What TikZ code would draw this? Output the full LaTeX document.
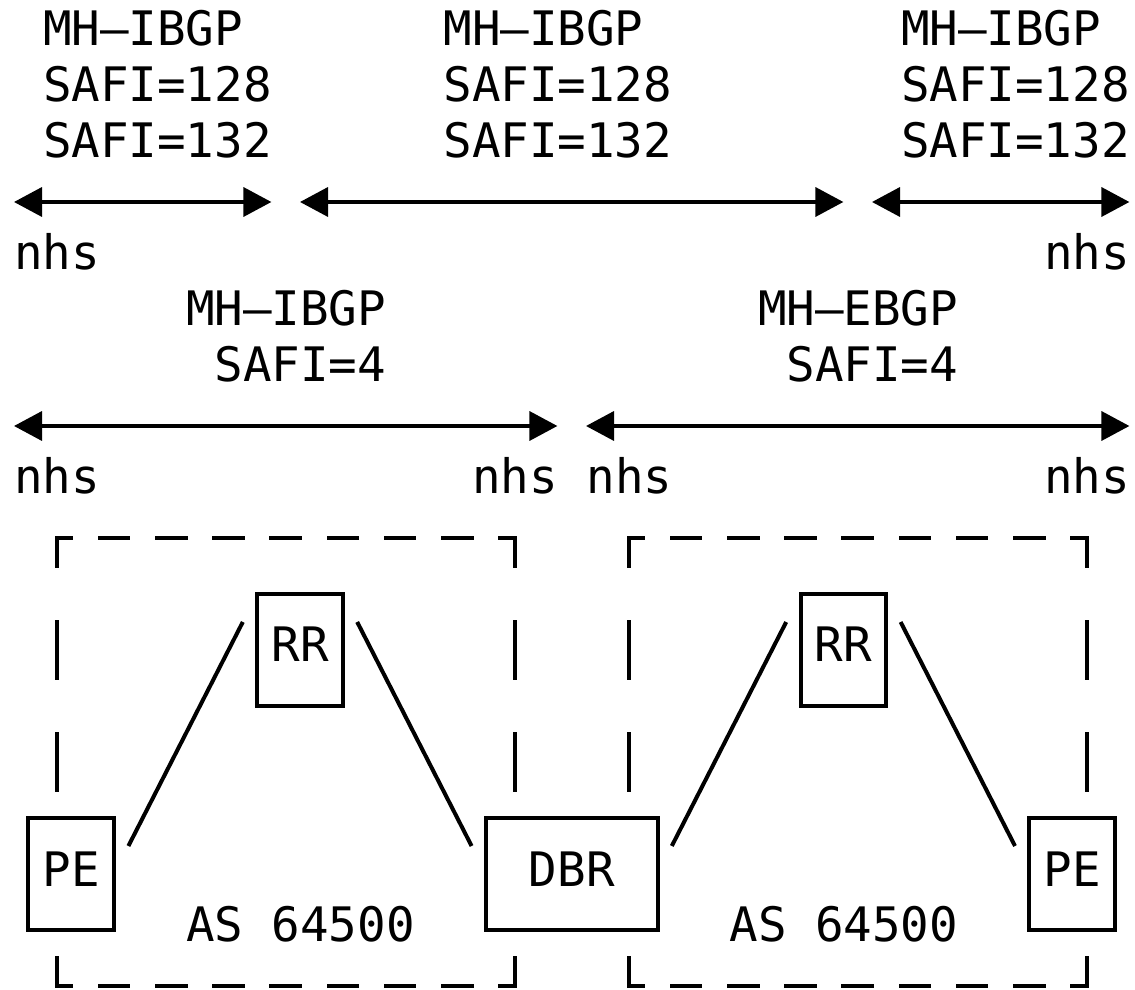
\documentclass[tikz,border=0pt]{standalone}
\usepackage{fontspec}
\setmainfont{DejaVu Sans Mono}
\usetikzlibrary{arrows.meta,calc}

% one grid cell = one character of the ascii art
\tikzset{
  txt/.style={anchor=base west,inner sep=0pt,font=\fontsize{23.75pt}{28pt}\selectfont},
  rtr/.style={draw,line width=2pt,fill=white,inner sep=0pt,outer sep=0pt,
              minimum height=56pt,text height=17.3pt,text depth=5.3pt,
              font=\fontsize{23.75pt}{28pt}\selectfont},
  sess/.style={line width=1.8pt,{Triangle[length=14pt,width=14.5pt]}-{Triangle[length=14pt,width=14.5pt]}},
  link/.style={line width=2pt},
  hdash/.style={line width=2pt,line cap=rect,dash pattern=on 14.3pt off 14.3pt,dash phase=7.15pt},
  vdash/.style={line width=2pt,line cap=rect,dash pattern=on 28pt off 28pt,dash phase=14pt}
}

\begin{document}
\begin{tikzpicture}[x=14.3pt,y=-28pt]
    \useasboundingbox (-0.4895,-0.607) rectangle (39.196,17.054);

    % sessions, top
    \node[txt] (ibgpa) at (1,0.214) {MH–IBGP};
    \node[txt] (safia1) at (1,1.214) {SAFI=128};
    \node[txt] (safia2) at (1,2.214) {SAFI=132};
    \node[txt] (ibgpb) at (15,0.214) {MH–IBGP};
    \node[txt] (safib1) at (15,1.214) {SAFI=128};
    \node[txt] (safib2) at (15,2.214) {SAFI=132};
    \node[txt] (ibgpc) at (31,0.214) {MH–IBGP};
    \node[txt] (safic1) at (31,1.214) {SAFI=128};
    \node[txt] (safic2) at (31,2.214) {SAFI=132};

    \coordinate (sa1) at (0,3);  \coordinate (sa2) at (9,3);
    \coordinate (sb1) at (10,3); \coordinate (sb2) at (29,3);
    \coordinate (sc1) at (30,3); \coordinate (sc2) at (39,3);
    \draw[sess] (sa1) -- (sa2);
    \draw[sess] (sb1) -- (sb2);
    \draw[sess] (sc1) -- (sc2);

    \node[txt] (nhsa) at (0,4.214) {nhs};
    \node[txt] (nhsb) at (36,4.214) {nhs};

    % sessions, ipv4
    \node[txt] (ibgpd) at (6,5.214) {MH–IBGP};
    \node[txt] (safid) at (7,6.214) {SAFI=4};
    \node[txt] (ebgpe) at (26,5.214) {MH–EBGP};
    \node[txt] (safie) at (27,6.214) {SAFI=4};

    \coordinate (sd1) at (0,7);  \coordinate (sd2) at (19,7);
    \coordinate (se1) at (20,7); \coordinate (se2) at (39,7);
    \draw[sess] (sd1) -- (sd2);
    \draw[sess] (se1) -- (se2);

    \node[txt] (nhsc) at (0,8.214) {nhs};
    \node[txt] (nhsd) at (16,8.214) {nhs};
    \node[txt] (nhse) at (20,8.214) {nhs};
    \node[txt] (nhsf) at (36,8.214) {nhs};

    % the two AS boxes
    \foreach \x in {1.5,21.5}{
        \draw[hdash] (\x,9) -- (\x+16,9);
        \draw[hdash] (\x,17) -- (\x+16,17);
        \draw[vdash] (\x,9) -- (\x,17);
        \draw[vdash] (\x+16,9) -- (\x+16,17);
    }
    \node[txt] (asl) at (6,16.214) {AS 64500};
    \node[txt] (asr) at (25,16.214) {AS 64500};

    % routers
    \node[rtr,minimum width=42.9pt] (rra) at (10,11) {RR};
    \node[rtr,minimum width=42.9pt] (rrb) at (29,11) {RR};
    \node[rtr,minimum width=42.9pt] (pea) at (2,15) {PE};
    \node[rtr,minimum width=85.8pt] (dbr) at (19.5,15) {DBR};
    \node[rtr,minimum width=42.9pt] (peb) at (37,15) {PE};

    \draw[link] ($(rra.north west)+(-0.5,0.5)$) -- ($(pea.north east)+(0.5,0.5)$);
    \draw[link] ($(rra.north east)+(0.5,0.5)$) -- ($(dbr.north west)+(-0.5,0.5)$);
    \draw[link] ($(rrb.north west)+(-0.5,0.5)$) -- ($(dbr.north east)+(0.5,0.5)$);
    \draw[link] ($(rrb.north east)+(0.5,0.5)$) -- ($(peb.north west)+(-0.5,0.5)$);
\end{tikzpicture}
\end{document}
